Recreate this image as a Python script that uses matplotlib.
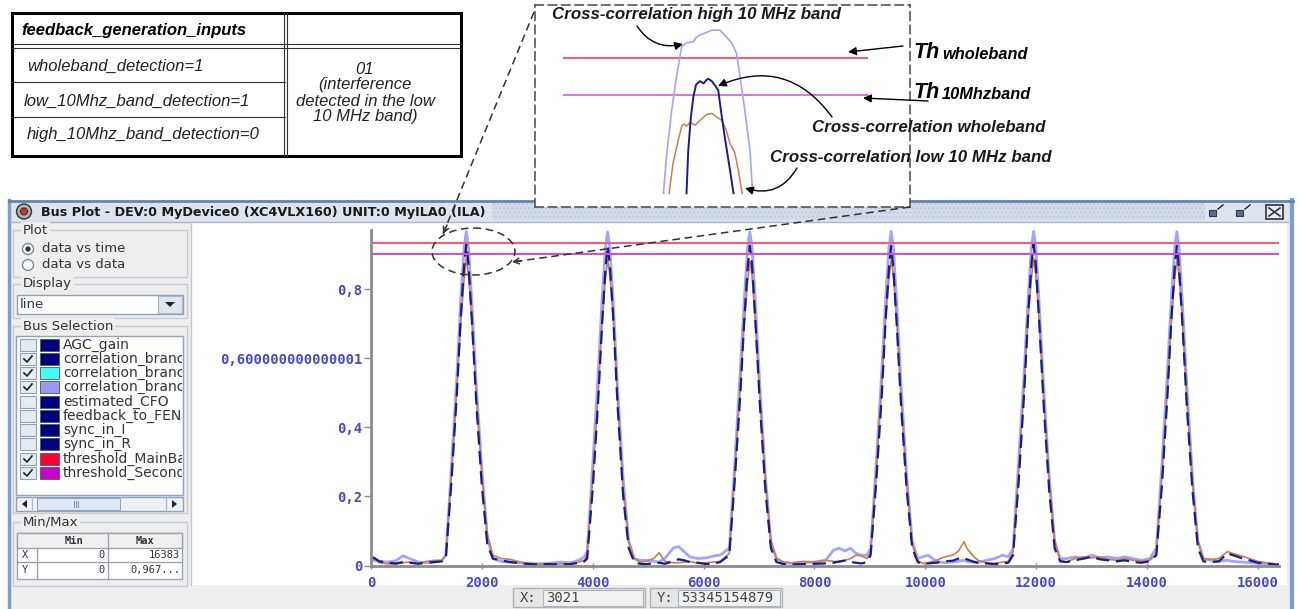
"""
ILA bus plot of the three cross-correlation outputs, with the threshold
lines, a zoom on the first peak and the feedback decision table.
"""

import matplotlib
matplotlib.use("Agg")
import matplotlib.pyplot as plt
from matplotlib.patches import Rectangle, Ellipse, Circle, Polygon

W, H = 1299, 609

# ---------------- main capture ----------------
sample_idx = [
    0, 60, 150, 300, 450, 580, 700, 850, 1000, 1150, 1280,
    1350, 1450, 1550, 1620, 1680, 1720, 1760, 1820, 1900, 2000, 2100, 2200,
    2350, 2500, 2650, 2800, 3000, 3200, 3400, 3600, 3750, 3850,
    3900, 4000, 4100, 4170, 4230, 4270, 4310, 4370, 4450, 4550, 4650, 4750,
    4850, 4950, 5100, 5200, 5300, 5450, 5550, 5650, 5750, 5900, 6050, 6200, 6300,
    6465, 6565, 6665, 6735, 6795, 6835, 6875, 6935, 7015, 7115, 7215, 7315,
    7450, 7600, 7800, 8000, 8200, 8350, 8450, 8550, 8650, 8750, 8850, 8950,
    9015, 9115, 9215, 9285, 9345, 9385, 9425, 9485, 9565, 9665, 9765, 9865,
    9950, 10050, 10200, 10350, 10500, 10600, 10700, 10750, 10850, 10950, 11100, 11250, 11400, 11500,
    11585, 11685, 11785, 11855, 11915, 11955, 11995, 12055, 12135, 12235, 12335, 12435,
    12550, 12700, 12850, 13000, 13150, 13300, 13450, 13600, 13750, 13900, 14050,
    14170, 14270, 14370, 14440, 14500, 14540, 14580, 14640, 14720, 14820, 14920, 15020,
    15150, 15300, 15450, 15550, 15700, 15850, 16000, 16150, 16300, 16383,
]

corr_wholeband = [
    0.025, 0.022, 0.012, 0.008, 0.006, 0.010, 0.008, 0.005, 0.008, 0.010, 0.012,
    0.020, 0.240, 0.500, 0.720, 0.870, 0.930, 0.870, 0.710, 0.470, 0.230, 0.060, 0.020,
    0.015, 0.010, 0.008, 0.005, 0.003, 0.004, 0.003, 0.004, 0.008, 0.012,
    0.020, 0.220, 0.480, 0.700, 0.860, 0.925, 0.870, 0.720, 0.460, 0.200, 0.050, 0.010,
    0.005, 0.004, 0.006, 0.008, 0.005, 0.012, 0.018, 0.015, 0.010, 0.008, 0.004, 0.006, 0.010,
    0.030, 0.250, 0.500, 0.710, 0.860, 0.925, 0.870, 0.710, 0.470, 0.220, 0.050, 0.010,
    0.004, 0.003, 0.004, 0.005, 0.006, 0.008, 0.012, 0.014, 0.010, 0.008, 0.006, 0.010,
    0.030, 0.240, 0.490, 0.710, 0.860, 0.925, 0.860, 0.700, 0.460, 0.220, 0.050, 0.010,
    0.004, 0.006, 0.008, 0.012, 0.014, 0.020, 0.022, 0.018, 0.012, 0.008, 0.006, 0.004, 0.006, 0.008,
    0.030, 0.240, 0.500, 0.720, 0.870, 0.930, 0.870, 0.710, 0.470, 0.220, 0.050, 0.012,
    0.010, 0.015, 0.020, 0.025, 0.018, 0.015, 0.012, 0.015, 0.010, 0.008, 0.012,
    0.030, 0.230, 0.490, 0.710, 0.860, 0.925, 0.860, 0.700, 0.460, 0.220, 0.050, 0.012,
    0.010, 0.012, 0.035, 0.030, 0.022, 0.015, 0.008, 0.006, 0.003, 0.002,
]

corr_low10 = [
    0.020, 0.018, 0.008, 0.005, 0.004, 0.008, 0.010, 0.006, 0.012, 0.015, 0.015,
    0.030, 0.260, 0.510, 0.700, 0.830, 0.890, 0.840, 0.710, 0.490, 0.260, 0.090, 0.030,
    0.020, 0.018, 0.012, 0.006, 0.004, 0.003, 0.005, 0.006, 0.010, 0.015,
    0.030, 0.250, 0.500, 0.700, 0.830, 0.885, 0.840, 0.720, 0.480, 0.220, 0.070, 0.020,
    0.010, 0.012, 0.020, 0.037, 0.012, 0.008, 0.008, 0.010, 0.012, 0.006, 0.008, 0.010, 0.012,
    0.035, 0.270, 0.520, 0.700, 0.820, 0.880, 0.840, 0.700, 0.490, 0.250, 0.070, 0.020,
    0.010, 0.008, 0.012, 0.010, 0.015, 0.012, 0.010, 0.015, 0.020, 0.030, 0.028, 0.020,
    0.040, 0.270, 0.520, 0.710, 0.830, 0.885, 0.840, 0.710, 0.480, 0.240, 0.060, 0.015,
    0.006, 0.008, 0.015, 0.025, 0.030, 0.042, 0.069, 0.050, 0.030, 0.015, 0.008, 0.006, 0.010, 0.012,
    0.040, 0.270, 0.520, 0.710, 0.830, 0.890, 0.840, 0.710, 0.490, 0.250, 0.070, 0.015,
    0.010, 0.020, 0.025, 0.022, 0.025, 0.018, 0.015, 0.020, 0.015, 0.012, 0.015,
    0.035, 0.260, 0.510, 0.700, 0.830, 0.885, 0.840, 0.710, 0.480, 0.240, 0.070, 0.020,
    0.018, 0.020, 0.040, 0.035, 0.028, 0.020, 0.012, 0.008, 0.005, 0.003,
]

corr_high10 = [
    0.018, 0.015, 0.012, 0.010, 0.014, 0.028, 0.020, 0.010, 0.008, 0.010, 0.014,
    0.030, 0.280, 0.550, 0.770, 0.920, 0.967, 0.920, 0.760, 0.520, 0.280, 0.080, 0.020,
    0.012, 0.010, 0.008, 0.006, 0.005, 0.006, 0.010, 0.008, 0.015, 0.025,
    0.040, 0.290, 0.560, 0.770, 0.920, 0.965, 0.920, 0.760, 0.510, 0.250, 0.070, 0.020,
    0.015, 0.015, 0.012, 0.010, 0.020, 0.050, 0.055, 0.040, 0.025, 0.020, 0.022, 0.028, 0.030,
    0.050, 0.300, 0.570, 0.770, 0.920, 0.966, 0.920, 0.760, 0.520, 0.260, 0.070, 0.020,
    0.008, 0.006, 0.008, 0.010, 0.015, 0.045, 0.050, 0.042, 0.050, 0.035, 0.030, 0.030,
    0.050, 0.290, 0.560, 0.770, 0.920, 0.967, 0.920, 0.760, 0.520, 0.260, 0.070, 0.020,
    0.025, 0.030, 0.012, 0.008, 0.010, 0.012, 0.015, 0.012, 0.010, 0.008, 0.015, 0.020, 0.030, 0.025,
    0.050, 0.300, 0.560, 0.770, 0.920, 0.967, 0.920, 0.760, 0.520, 0.260, 0.070, 0.020,
    0.020, 0.025, 0.020, 0.030, 0.022, 0.025, 0.020, 0.025, 0.020, 0.015, 0.020,
    0.050, 0.290, 0.560, 0.770, 0.920, 0.966, 0.920, 0.760, 0.520, 0.260, 0.070, 0.020,
    0.015, 0.012, 0.015, 0.012, 0.010, 0.008, 0.006, 0.005, 0.003, 0.002,
]

th_mainband = 0.933
th_secondband = 0.901

x_ticks = [0, 2000, 4000, 6000, 8000, 10000, 12000, 14000, 16000]
y_ticks = [0, 0.2, 0.4, 0.6, 0.8]
y_tick_labels = ['0', '0,2', '0,4', '0,600000000000001', '0,8']

# ---------------- zoom on the first peak ----------------
zoom_high_x = [1593, 1600, 1612, 1623, 1635, 1646, 1662, 1669, 1677, 1685,
               1704, 1723, 1738, 1750, 1761, 1769, 1780, 1792, 1798]
zoom_high_y = [0.816, 0.848, 0.888, 0.917, 0.943, 0.946, 0.947, 0.951, 0.953, 0.954,
               0.957, 0.957, 0.951, 0.946, 0.937, 0.917, 0.888, 0.853, 0.816]
zoom_whole_x = [1646, 1650, 1656, 1662, 1668, 1677, 1685, 1692, 1696, 1704,
                1712, 1719, 1725, 1735, 1746, 1754]
zoom_whole_y = [0.816, 0.853, 0.882, 0.900, 0.910, 0.913, 0.911, 0.914, 0.915, 0.913,
                0.909, 0.905, 0.888, 0.862, 0.836, 0.816]
zoom_low_x = [1606, 1615, 1627, 1635, 1640, 1646, 1654, 1666, 1677, 1692,
              1704, 1715, 1727, 1737, 1746, 1757, 1765, 1774]
zoom_low_y = [0.816, 0.842, 0.862, 0.874, 0.876, 0.874, 0.877, 0.875, 0.879, 0.884,
              0.885, 0.882, 0.879, 0.871, 0.859, 0.851, 0.836, 0.816]

# ---------------- decision table ----------------
table_header = 'feedback_generation_inputs'
table_inputs = ['wholeband_detection=1', 'low_10Mhz_band_detection=1',
                'high_10Mhz_band_detection=0']
table_result = ['01', '(interference', 'detected in the low', '10 MHz band)']

# ---------------- GUI content ----------------
window_title = 'Bus Plot - DEV:0 MyDevice0 (XC4VLX160) UNIT:0 MyILA0 (ILA)'
bus_names = ['AGC_gain', 'correlation_branch_wb', 'correlation_branch_low',
             'correlation_branch_high', 'estimated_CFO', 'feedback_to_FEND',
             'sync_in_I', 'sync_in_R', 'threshold_MainBand', 'threshold_SecondBand']
bus_checked = [False, True, True, True, False, False, False, False, True, True]
bus_colors = ['#000080', '#000080', '#40ffff', '#9999ff', '#000080', '#000080',
              '#000080', '#000080', '#ff0033', '#cc00cc']
minmax_rows = [('X', '0', '16383'), ('Y', '0', '0,967...')]
cursor_x = '3021'
cursor_y = '53345154879'

C_WHOLE = '#1c1c88'
C_LOW = '#c8804c'
C_HIGH = '#a0a6ff'
C_TH1 = '#f0607c'
C_TH2 = '#d050d8'
C_TICK = '#4848c8'
GROUP_EC = '#c3cdd9'
PANEL = '#eeeeee'

fig = plt.figure(figsize=(W / 100, H / 100), dpi=100)
fig.patch.set_facecolor('white')


def box(x0, y0, x1, y1):
    return [x0 / W, 1 - y1 / H, (x1 - x0) / W, (y1 - y0) / H]


def pixel_axes(x0, y0, x1, y1, z):
    a = fig.add_axes(box(x0, y0, x1, y1), zorder=z)
    a.set_xlim(x0, x1)
    a.set_ylim(y1, y0)
    a.axis('off')
    return a


def rect(a, x0, y0, x1, y1, **kw):
    a.add_patch(Rectangle((x0, y0), x1 - x0, y1 - y0, **kw))


ov = pixel_axes(0, 0, W, H, 0)

# ---- decision table (top left) ----
rect(ov, 12, 13, 461, 156, fill=False, ec='black', lw=2.2)
for xx in (284, 287):
    ov.plot([xx, xx], [13, 156], color='#333333', lw=0.8)
for yy in (44, 48):
    ov.plot([12, 461], [yy, yy], color='#333333', lw=0.8)
for yy in (82, 117):
    ov.plot([12, 285], [yy, yy], color='#333333', lw=0.8)
ov.text(21, 31, table_header, fontsize=12, fontweight='bold', fontstyle='italic',
        family='Liberation Sans', va='center')
for txt, xx, yy in zip(table_inputs, (27, 24, 27), (66, 101, 135)):
    ov.text(xx, yy, txt, fontsize=12, fontstyle='italic', family='Liberation Sans',
            va='center', color='#222222')
for txt, yy in zip(table_result, (70, 85, 101, 116)):
    ov.text(365, yy, txt, fontsize=12, fontstyle='italic', family='Liberation Sans',
            va='center', ha='center', color='#222222')

# ---- window frame ----
rect(ov, 8, 200, 1294, 609, fc=PANEL, ec='none')
ov.plot([9, 9], [200, 609], color='#7f9cc6', lw=2.5)
ov.plot([1292, 1292], [200, 609], color='#7f9cc6', lw=3)
rect(ov, 10, 201, 1290, 222, fc='#dde4ee', ec='none')
rect(ov, 492, 203, 1205, 220, fc='#d4dde9', ec='#bccadc', lw=0, hatch='....')
ov.plot([9, 1293], [201, 201], color='#6584b4', lw=2)
ov.plot([10, 1290], [222, 222], color='#aab8cc', lw=1)
ov.add_patch(Circle((24, 211.5), 7.5, fc='#b0b0b0', ec='#333333', lw=1))
ov.add_patch(Circle((24, 211.5), 3.5, fc='#d03030', ec='#333333', lw=0.8))
ov.text(41, 212.5, window_title, fontsize=9.2, fontweight='bold', family='DejaVu Sans',
        va='center', color='#1a1a1a')
# title bar buttons
rect(ov, 1209, 210, 1216, 216, fc='#5a6e8c', ec='#2a3a55', lw=0.8)
ov.plot([1218, 1223], [209, 205], color='#222222', lw=1)
rect(ov, 1236, 210, 1243, 216, fc='#5a6e8c', ec='#2a3a55', lw=0.8)
ov.plot([1245, 1250], [209, 205], color='#222222', lw=1)
rect(ov, 1266, 205, 1283, 219, fc='#e6ecf3', ec='#333333', lw=1.2)
ov.plot([1269, 1280], [208, 216], color='#333333', lw=1.2)
ov.plot([1269, 1280], [216, 208], color='#333333', lw=1.2)

# plot area
rect(ov, 192, 223, 1287, 585, fc='white', ec='none')
ov.plot([191, 191], [223, 585], color='#c8c8c8', lw=1)

# ---- left panel ----
gui_font = dict(family='DejaVu Sans', fontsize=9.5, color='#333333', va='center')


def group(x0, y0, x1, y1, label):
    rect(ov, x0, y0, x1, y1, fill=False, ec=GROUP_EC, lw=1)
    ov.text(23, y0, label, bbox=dict(fc=PANEL, ec='none', pad=1.2), **gui_font)


group(13, 230, 187, 277, 'Plot')
for yy, txt, sel in ((249, 'data vs time', True), (265, 'data vs data', False)):
    ov.add_patch(Circle((28, yy), 5.5, fc='#f4f6f8', ec='#7c8ea2', lw=1))
    if sel:
        ov.add_patch(Circle((28, yy), 2.6, fc='#333333', ec='none'))
    ov.text(42, yy, txt, **gui_font)

group(13, 284, 187, 318, 'Display')
rect(ov, 17, 295, 183, 314, fc='white', ec='#8ea2b8', lw=1)
rect(ov, 158, 296, 182, 313, fc='#dfe6ee', ec='#a8b8ca', lw=0.8)
ov.add_patch(Polygon([(165, 302), (175, 302), (170, 307)], fc='#222222', ec='none'))
ov.text(20, 305, 'line', **gui_font)

group(13, 326, 187, 513, 'Bus Selection')
rect(ov, 16, 336, 183, 495, fc='white', ec='#8ea2b8', lw=1)
lst = pixel_axes(16, 336, 182, 495, 0.5)
row_y = [345, 359, 373, 387, 401.5, 416, 430, 444, 459, 473]
for name, chk, col, yy in zip(bus_names, bus_checked, bus_colors, row_y):
    rect(ov, 20, yy - 6, 36, yy + 6, fc='#e4ebf2', ec='#8ea2b8', lw=0.8)
    if chk:
        ov.plot([24, 27, 32], [yy, yy + 3, yy - 3], color='#222222', lw=1.2)
    rect(ov, 40, yy - 6, 59, yy + 6, fc=col, ec='#555555', lw=0.6)
    lst.text(63, yy, name, clip_on=True, **dict(gui_font, fontsize=10))
# horizontal scrollbar
rect(ov, 16, 497, 183, 511, fc='#eef2f6', ec='#8ea2b8', lw=1)
ov.plot([32, 32], [497, 511], color='#a8b8ca', lw=0.8)
ov.plot([166, 166], [497, 511], color='#a8b8ca', lw=0.8)
ov.add_patch(Polygon([(27, 500), (27, 508), (22, 504)], fc='#222222', ec='none'))
ov.add_patch(Polygon([(172, 500), (172, 508), (177, 504)], fc='#222222', ec='none'))
rect(ov, 37, 498, 120, 510, fc='#dde8f4', ec='#8ea8c4', lw=0.8)
for xx in (74, 76, 78):
    ov.plot([xx, xx], [501, 507], color='#6a7e98', lw=0.6)

group(13, 522, 187, 586, 'Min/Max')
rect(ov, 17, 533, 182, 579, fc='white', ec='#9aa4b0', lw=1)
rect(ov, 17, 533, 182, 548, fc='#f0f0f0', ec='#9aa4b0', lw=1)
ov.plot([17, 182], [562, 562], color='#9aa4b0', lw=1)
for xx in (37, 108):
    ov.plot([xx, xx], [548, 579], color='#9aa4b0', lw=1)
ov.plot([108, 108], [533, 548], color='#9aa4b0', lw=1)
mono_small = dict(family='DejaVu Sans Mono', fontsize=7.5, color='#333333', va='center')
ov.text(74, 541, 'Min', ha='center', fontweight='bold', **mono_small)
ov.text(145, 541, 'Max', ha='center', fontweight='bold', **mono_small)
for (lab, mn, mx), yy in zip(minmax_rows, (555.5, 570)):
    ov.text(22, yy, lab, **mono_small)
    ov.text(105, yy, mn, ha='right', **mono_small)
    ov.text(180, yy, mx, ha='right', **mono_small)

# ---- status bar ----
mono_status = dict(family='DejaVu Sans Mono', fontsize=10, color='#444444', va='center')
for x0, x1, xv, lab, val in ((513, 645, 543, 'X:', cursor_x), (650, 782, 678, 'Y:', cursor_y)):
    rect(ov, x0, 588, x1, 607, fc='#e6e6e6', ec='#b4b4b4', lw=1)
    rect(ov, xv, 589.5, x1 - 2, 605.5, fc='#f2f2f2', ec='#a4b8cc', lw=0.8)
    ov.text(x0 + 7, 597.5, lab, **mono_status)
    ov.text(xv + 3, 597.5, val, **mono_status)

# ---------------- main plot ----------------
ax = fig.add_axes(box(371, 230, 1279, 565.5), zorder=1)
ax.patch.set_visible(False)
ax.plot(sample_idx, corr_high10, color=C_HIGH, lw=2.0, solid_joinstyle='round')
ax.plot(sample_idx, corr_low10, color=C_LOW, lw=1.2)
ax.plot(sample_idx, corr_wholeband, color=C_WHOLE, lw=1.6, dashes=(6, 3))
ax.axhline(th_mainband, color=C_TH1, lw=1.5)
ax.axhline(th_secondband, color=C_TH2, lw=1.5)
ax.set_xlim(0, 16383)
ax.set_ylim(0, 0.971)
ax.set_xticks(x_ticks)
ax.set_xticklabels([str(v) for v in x_ticks])
ax.set_yticks(y_ticks)
ax.set_yticklabels(y_tick_labels)
for s in ('top', 'right'):
    ax.spines[s].set_visible(False)
for s in ('left', 'bottom'):
    ax.spines[s].set_color('#8c8c8c')
    ax.spines[s].set_linewidth(2)
ax.tick_params(axis='y', direction='out', length=5, width=1, color='#8c8c8c',
               labelcolor=C_TICK, pad=1)
ax.tick_params(axis='x', direction='inout', length=5, width=1, color='#8c8c8c',
               labelcolor=C_TICK, pad=5)
for lab in ax.get_xticklabels() + ax.get_yticklabels():
    lab.set_family('DejaVu Sans Mono')
    lab.set_fontweight('bold')
    lab.set_fontsize(10)

# ---------------- zoom inset ----------------
ins = fig.add_axes(box(535, 5, 910, 207), zorder=2)
ins.set_facecolor('white')
ins.set_xlim(1297.5, 2160)
ins.set_ylim(0.8041, 0.9788)
ins.set_xticks([])
ins.set_yticks([])
for s in ins.spines.values():
    s.set_linestyle((0, (5, 3)))
    s.set_color('#555555')
    s.set_linewidth(1.2)
ins.hlines(th_mainband, 1362, 2063, color=C_TH1, lw=1.5)
ins.hlines(th_secondband, 1362, 2063, color=C_TH2, lw=1.1)
ins.plot(zoom_high_x, zoom_high_y, color=C_HIGH, lw=1.2)
ins.plot(zoom_low_x, zoom_low_y, color=C_LOW, lw=1.1)
ins.plot(zoom_whole_x, zoom_whole_y, color=C_WHOLE, lw=1.4)

# ---------------- annotations on top ----------------
top = pixel_axes(0, 0, W, H, 3)
top.add_patch(Ellipse((473.5, 251.5), 83, 47, fill=False, ec='#333333', lw=1.1,
                      ls=(0, (5, 3))))
dash_kw = dict(color='#333333', lw=1.1, ls=(0, (5, 3)))
top.plot([534, 443], [12, 234], **dash_kw)
top.plot([910, 512], [207, 262], **dash_kw)
head_kw = dict(arrowstyle='->', color='#333333', lw=1.1, shrinkA=0, shrinkB=0,
               mutation_scale=10)
top.annotate('', xy=(443, 234), xytext=(447, 225), arrowprops=head_kw)
top.annotate('', xy=(512, 262), xytext=(521, 260.8), arrowprops=head_kw)

lab_font = dict(family='Liberation Sans', fontweight='bold', fontstyle='italic',
                fontsize=12.2, color='#1a1a1a', va='center')
top.text(552, 15, 'Cross-correlation high 10 MHz band', **lab_font)
top.text(812, 127, 'Cross-correlation wholeband', **lab_font)
top.text(770, 158, 'Cross-correlation low 10 MHz band', **lab_font)

th_font = dict(family='Liberation Sans', fontweight='bold', fontstyle='italic',
               color='black', va='baseline')
top.text(913, 58, 'Th', fontsize=15.5, **th_font)
top.text(942, 59, 'wholeband', fontsize=11.8, **th_font)
top.text(913, 98, 'Th', fontsize=15.5, **th_font)
top.text(942, 99, '10Mhzband', fontsize=11.8, **th_font)

arr_kw = dict(arrowstyle='-|>', color='black', lw=1.0, mutation_scale=12,
              shrinkA=0, shrinkB=0)
top.annotate('', xy=(683, 44), xytext=(637, 26),
             arrowprops=dict(connectionstyle='arc3,rad=0.35', **arr_kw))
top.annotate('', xy=(848, 52), xytext=(903, 46), arrowprops=arr_kw)
top.annotate('', xy=(863, 98), xytext=(928, 101), arrowprops=arr_kw)
top.annotate('', xy=(718, 86), xytext=(832, 117),
             arrowprops=dict(connectionstyle='arc3,rad=0.4', **arr_kw))
top.annotate('', xy=(745, 188), xytext=(797, 168),
             arrowprops=dict(connectionstyle='arc3,rad=-0.4', **arr_kw))

fig.savefig('out.png', dpi=100, facecolor='white')
